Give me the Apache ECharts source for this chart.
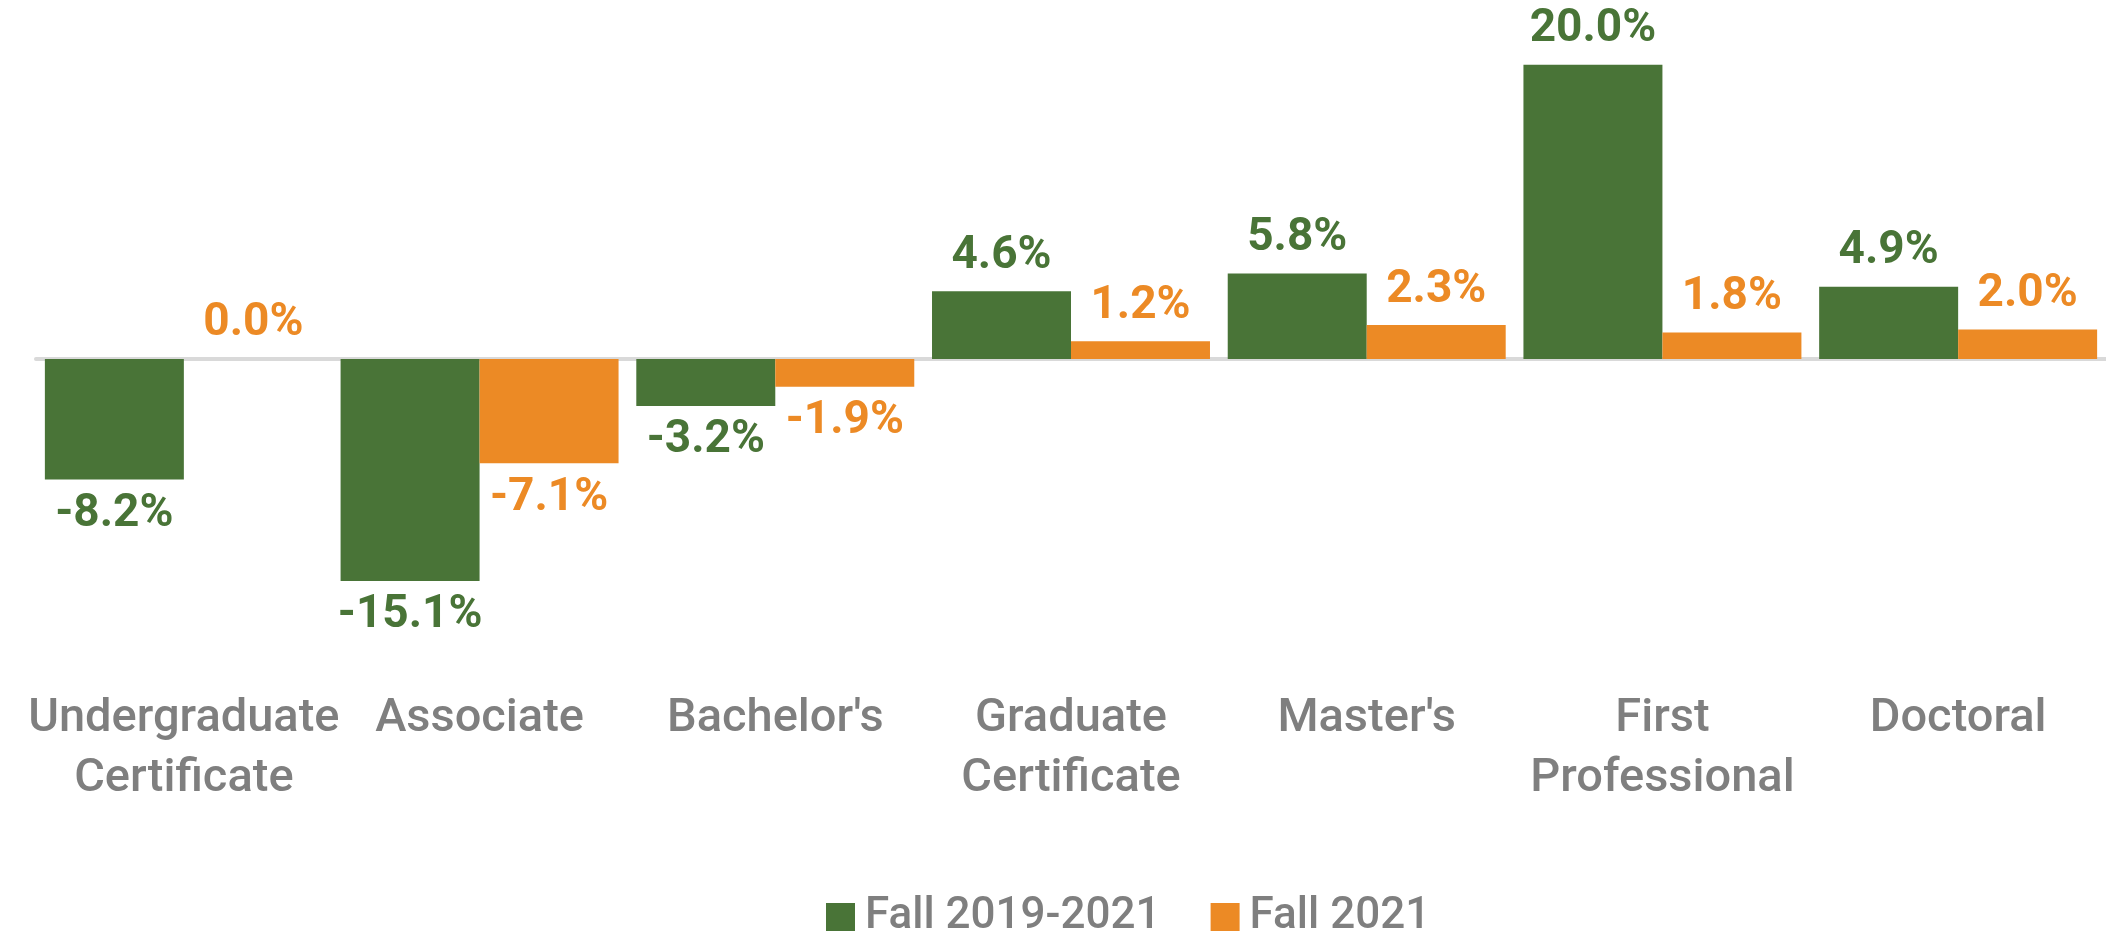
<!DOCTYPE html>
<html>
<head>
<meta charset="utf-8">
<script src="https://cdn.jsdelivr.net/npm/echarts@6/dist/echarts.min.js"></script>
<style>
  html, body { margin: 0; padding: 0; background: #ffffff; }
  #chart { width: 2106px; height: 937px; }
</style>
</head>
<body>
<div id="chart"></div>
<script>
const categories = ['Undergraduate\nCertificate', 'Associate', "Bachelor's", 'Graduate\nCertificate', "Master's", 'First\nProfessional', 'Doctoral'];
const fall2019to2021 = [-8.2, -15.1, -3.2, 4.6, 5.8, 20.0, 4.9];
const fall2021 = [0.0, -7.1, -1.9, 1.2, 2.3, 1.8, 2.0];
const seriesNames = ['Fall 2019-2021', 'Fall 2021'];

const GREEN = '#497437';
const ORANGE = '#EC8A25';
const FONT = 'Roboto, "Noto Sans", sans-serif';

const chart = echarts.init(document.getElementById('chart'), null, { renderer: 'canvas' });

function barLabel(color) {
  return {
    show: true,
    position: 'outside',
    distance: 12,
    color: color,
    fontFamily: FONT,
    fontWeight: 'bold',
    fontSize: 46,
    formatter: p => p.value.toFixed(1) + '%'
  };
}

// zero values get their label above the axis line
function withLabelSide(values) {
  return values.map(v => v === 0 ? { value: v, label: { position: 'top' } } : v);
}

chart.setOption({
  animation: false,
  backgroundColor: '#ffffff',
  grid: { left: 36, right: -12, top: 6, bottom: 284, containLabel: false },
  legend: {
    data: seriesNames,
    left: 821,
    top: 890,
    itemWidth: 29,
    itemHeight: 28,
    itemGap: 50,
    icon: 'rect',
    textStyle: { color: '#7F7F7F', fontFamily: FONT, fontWeight: 500, fontSize: 44, padding: [0, 0, 0, 5] }
  },
  xAxis: [
    {
      type: 'category',
      data: categories,
      position: 'bottom',
      axisLine: { show: false, onZero: false },
      axisTick: { show: false },
      axisLabel: {
        interval: 0,
        margin: 36,
        color: '#7F7F7F',
        fontFamily: FONT,
        fontWeight: 500,
        fontSize: 47,
        lineHeight: 60
      }
    },
    {
      type: 'category',
      data: categories,
      position: 'top',
      axisLine: { show: true, onZero: true, lineStyle: { color: '#D9D9D9', width: 4 } },
      axisTick: { show: false },
      axisLabel: { show: false }
    }
  ],
  yAxis: {
    type: 'value',
    min: -20,
    max: 24,
    interval: 4,
    show: false,
    splitLine: { show: false }
  },
  series: [
    {
      name: seriesNames[0],
      type: 'bar',
      xAxisIndex: 0,
      data: withLabelSide(fall2019to2021),
      barGap: '0%',
      barCategoryGap: '6%',
      itemStyle: { color: GREEN },
      label: barLabel(GREEN)
    },
    {
      name: seriesNames[1],
      type: 'bar',
      xAxisIndex: 0,
      data: withLabelSide(fall2021),
      barGap: '0%',
      barCategoryGap: '6%',
      itemStyle: { color: ORANGE },
      label: barLabel(ORANGE)
    }
  ]
});
</script>
</body>
</html>
